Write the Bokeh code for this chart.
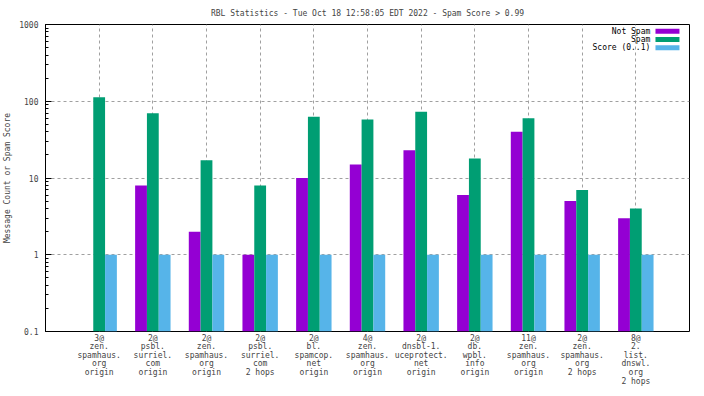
import numpy as np
from bokeh.plotting import figure
from bokeh.models import Range1d, FixedTicker, LogTicker, ColumnDataSource
from bokeh.transform import dodge
from bokeh.core.properties import value
from bokeh.embed import file_html
from bokeh.resources import INLINE

# ---- data ----
categories = [
    "3@\nzen.\nspamhaus.\norg\norigin",
    "2@\npsbl.\nsurriel.\ncom\norigin",
    "2@\nzen.\nspamhaus.\norg\norigin",
    "2@\npsbl.\nsurriel.\ncom\n2 hops",
    "2@\nbl.\nspamcop.\nnet\norigin",
    "4@\nzen.\nspamhaus.\norg\norigin",
    "2@\ndnsbl-1.\nuceprotect.\nnet\norigin",
    "2@\ndb.\nwpbl.\ninfo\norigin",
    "11@\nzen.\nspamhaus.\norg\norigin",
    "2@\nzen.\nspamhaus.\norg\n2 hops",
    "8@\n2.\nlist.\ndnswl.\norg\n2 hops",
]
not_spam = [0, 8, 2, 1, 10, 15, 23, 6, 40, 5, 3]
spam = [113, 70, 17, 8, 63, 58, 73, 18, 60, 7, 4]
score = [1, 1, 1, 1, 1, 1, 1, 1, 1, 1, 1]
series_names = ["Not Spam", "Spam", "Score (0..1)"]
colors = ["#9400d3", "#009e73", "#56b4e9"]
title = "RBL Statistics - Tue Oct 18 12:58:05 EDT 2022 - Spam Score > 0.99"
y_label = "Message Count or Spam Score"

FONT = "DejaVu Sans Mono"
FS = "8px"

xs = list(range(1, len(categories) + 1))
x_max = len(categories) + 1

def clean(v):
    a = np.array(v, dtype=float)
    return np.where(a > 0, a, np.nan)

src = ColumnDataSource(dict(x=xs, ns=clean(not_spam), sp=clean(spam), sc=clean(score)))

p = figure(frame_width=644, frame_height=307, y_axis_type="log",
           x_range=Range1d(0, x_max), y_range=Range1d(0.1, 1000),
           output_backend="svg", toolbar_location=None,
           min_border_left=45, min_border_right=15, min_border_top=24, min_border_bottom=65)

p.title.text = title
p.title.align = "center"
p.title.text_font = FONT
p.title.text_font_size = FS
p.title.text_font_style = "normal"
p.title.standoff = 13

p.outline_line_color = "black"
p.outline_line_width = 1
p.background_fill_color = "white"
p.border_fill_color = "white"

bw = 0.22
for key, off, c in zip(["ns", "sp", "sc"], [-bw, 0, bw], colors):
    p.vbar(x=dodge("x", off, range=p.x_range), top=key, bottom=0.1, width=bw,
           source=src, fill_color=c, line_color=None)

# legend (gnuplot style: text then colour box)
leg_y = np.array([818.0, 638.0, 496.0])
h = 10 ** (2.5 / 76.75)
p.text(x=[11.27] * 3, y=leg_y, text=series_names, text_align="right",
       text_baseline="middle", text_font=value(FONT), text_font_size=FS, text_color="black")
p.quad(left=[11.366] * 3, right=[11.813] * 3, bottom=leg_y / h, top=leg_y * h,
       fill_color=colors, line_color=None)

# axes
xa = p.xaxis[0]
xa.ticker = FixedTicker(ticks=xs)
xa.major_label_overrides = {x: c for x, c in zip(xs, categories)}
xa.major_label_text_font = FONT
xa.major_label_text_font_size = FS
xa.major_label_text_line_height = 0.96
xa.major_tick_in = 0
xa.major_tick_out = 0
xa.minor_tick_line_color = None
xa.axis_line_color = None
xa.major_label_standoff = 2

ya = p.yaxis[0]
ya.ticker = LogTicker(num_minor_ticks=10)
ya.major_label_overrides = {0.1: "0.1", 1: "1", 10: "10", 100: "100", 1000: "1000"}
ya.major_label_text_font = FONT
ya.major_label_text_font_size = FS
ya.major_tick_in = 6
ya.major_tick_out = 0
ya.minor_tick_in = 3
ya.minor_tick_out = 0
ya.axis_line_color = None
ya.axis_label = y_label
ya.axis_label_text_font = FONT
ya.axis_label_text_font_size = FS
ya.axis_label_text_font_style = "normal"
ya.major_label_standoff = 7
ya.axis_label_standoff = 4

p.xgrid.ticker = FixedTicker(ticks=xs)
for g in (p.xgrid[0], p.ygrid[0]):
    g.grid_line_color = "#a0a0a0"
    g.grid_line_dash = "3 3"
    g.grid_line_width = 1

open("out.html", "w").write(file_html(p, INLINE))
